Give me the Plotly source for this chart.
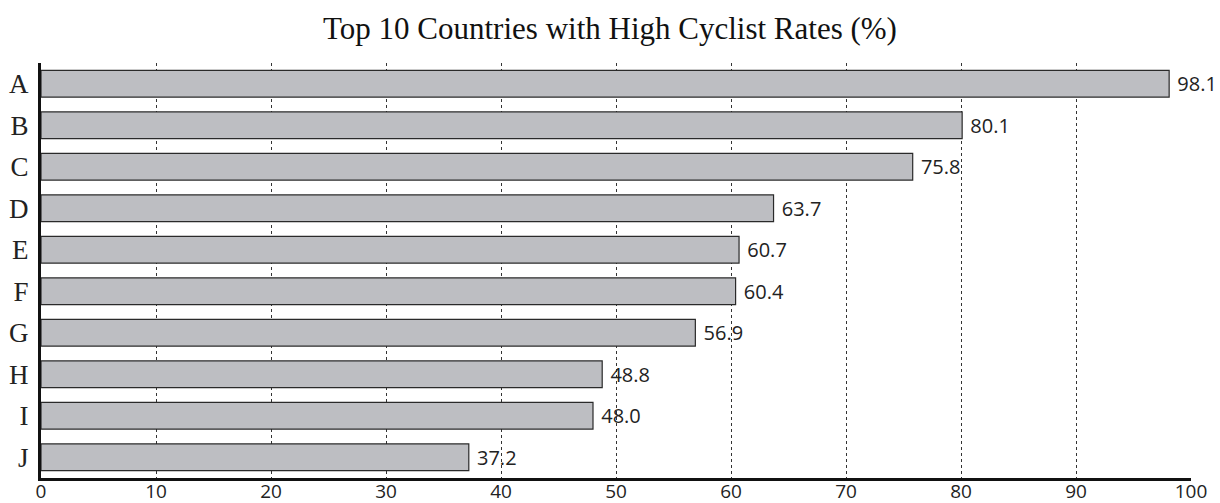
import plotly.graph_objects as go

# Cyclist share by country
countries = ["A", "B", "C", "D", "E", "F", "G", "H", "I", "J"]
rates = [98.1, 80.1, 75.8, 63.7, 60.7, 60.4, 56.9, 48.8, 48.0, 37.2]
tick_vals = [0, 10, 20, 30, 40, 50, 60, 70, 80, 90, 100]

fig = go.Figure(
    go.Bar(
        x=rates,
        y=countries,
        orientation="h",
        marker=dict(color="#bdbec2", line=dict(color="#2a2a2a", width=1.2)),
        text=[f" {v:.1f}" for v in rates],
        textposition="outside",
        constraintext="none",
        cliponaxis=False,
        textfont=dict(family="Open Sans", size=20, color="#222222"),
    )
)

fig.update_layout(
    width=1220,
    height=503,
    margin=dict(l=41, r=29, t=63, b=25),
    paper_bgcolor="white",
    plot_bgcolor="white",
    bargap=0.36,
    showlegend=False,
    title=dict(
        text="Top 10 Countries with High Cyclist Rates (%)",
        x=0.5,
        xanchor="center",
        y=0.945,
        yanchor="middle",
        font=dict(family="Liberation Serif", size=31, color="#111111"),
    ),
)

fig.update_xaxes(
    range=[0, 100],
    tickvals=tick_vals,
    showgrid=True,
    gridcolor="#333333",
    gridwidth=1,
    griddash="dot",
    showline=True,
    linecolor="#111111",
    linewidth=3,
    ticks="",
    zeroline=False,
    automargin=False,
    ticklabelstandoff=-6,
    tickfont=dict(family="Open Sans", size=19, color="#222222"),
)

fig.update_yaxes(
    categoryorder="array",
    categoryarray=countries,
    autorange="reversed",
    showgrid=False,
    showline=True,
    linecolor="#111111",
    linewidth=3,
    ticks="",
    ticklabelstandoff=4,
    automargin=False,
    tickfont=dict(family="Liberation Serif", size=27, color="#222222"),
)

fig.write_html("out.html")
